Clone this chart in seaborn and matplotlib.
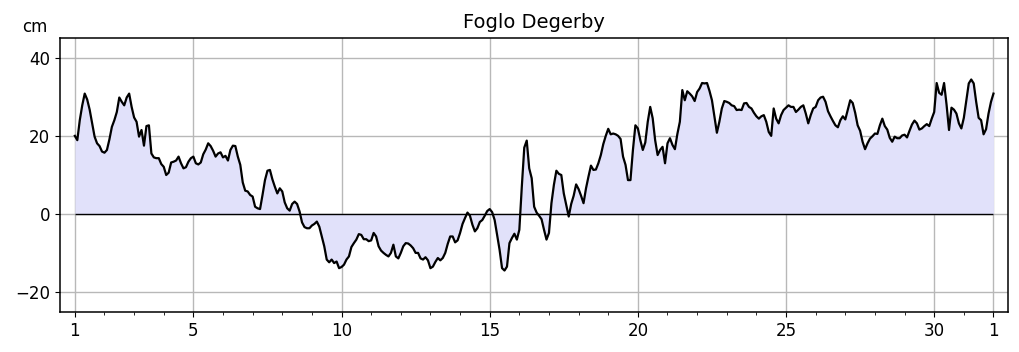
import numpy as np
import pandas as pd
import seaborn as sns
import matplotlib.pyplot as plt

# Sea level at Foglo Degerby, one reading every 2 hours over the month (cm)
station = "Foglo Degerby"
unit = "cm"
step_hours = 2
sea_level = [
    20.0, 18.9, 24.0, 27.8, 30.8, 29.3, 26.7, 23.2, 19.8, 18.1,
    17.4, 16.0, 15.7, 16.4, 19.1, 22.3, 24.0, 26.1, 29.8, 28.7,
    27.8, 29.8, 30.8, 27.4, 24.7, 23.6, 19.8, 21.5, 17.5, 22.5,
    22.7, 15.5, 14.5, 14.3, 14.3, 12.8, 12.1, 10.0, 10.6, 13.2,
    13.4, 13.7, 14.7, 13.0, 11.7, 12.0, 13.4, 14.3, 14.7, 13.0,
    12.7, 13.2, 15.3, 16.5, 18.1, 17.4, 16.2, 14.7, 15.5, 15.8,
    14.5, 14.9, 13.7, 16.4, 17.5, 17.4, 14.7, 12.6, 8.1, 6.0,
    5.8, 4.9, 4.5, 1.9, 1.5,
    1.3, 4.9, 8.7, 11.1, 11.3, 8.9, 7.0, 5.3, 6.6, 5.8,
    3.0, 1.5, 0.9, 2.6, 3.2, 2.6, 0.7, -2.1, -3.3, -3.6,
    -3.6, -2.9, -2.5, -1.9, -3.2, -5.7, -8.2, -11.6, -12.3, -11.6,
    -12.5, -12.1, -13.8, -13.5, -12.9, -11.6, -10.8, -8.4, -7.4, -6.5,
    -5.1, -5.3, -6.4, -6.4, -6.9, -6.7, -4.8, -5.7, -8.2, -9.3,
    -9.9, -10.4, -10.8, -9.9, -7.8, -10.8, -11.3, -9.9, -8.2, -7.4,
    -7.5, -8.0, -8.7, -9.9, -9.9, -11.3, -11.6, -11.0, -11.8, -13.8,
    -13.4, -12.2, -11.2, -11.8, -11.2, -9.9, -7.6,
    -5.7, -5.7, -7.2, -6.7, -4.8, -2.5, -1.0, 0.4, -0.4, -2.7,
    -4.4, -3.6, -2.0, -1.5, -0.4, 0.8, 1.3, 0.5, -1.5, -5.3,
    -9.1, -13.8, -14.4, -13.4, -7.4, -6.1, -5.0, -6.5, -4.0, 7.0,
    17.0, 18.8, 11.7, 9.2, 1.9, 0.4, -0.4, -1.3, -4.0, -6.5,
    -4.8, 2.8, 7.5, 11.1, 10.3, 10.0, 5.3, 2.4, -0.6, 2.6,
    4.7, 7.6, 6.4, 4.7, 2.8, 6.6, 9.6, 12.4, 11.3, 11.4,
    13.0, 15.1, 17.9, 20.0, 21.8, 20.4, 20.6, 20.4, 20.0, 19.2,
    14.7, 12.6, 8.7, 8.7, 16.4, 22.7, 21.9,
    18.9, 16.4, 18.3, 23.6, 27.4, 24.5, 18.9, 15.1, 16.4, 17.2,
    13.0, 18.1, 19.4, 17.7, 16.6, 20.5, 23.6, 31.7, 29.1, 31.4,
    30.8, 30.1, 28.9, 31.2, 32.1, 33.5, 33.4, 33.5, 31.5, 29.1,
    24.9, 20.8, 23.6, 27.0, 28.9, 28.7, 28.4, 27.8, 27.6, 26.6,
    26.7, 26.6, 28.3, 28.4, 27.4, 27.0, 25.9, 25.0, 24.4, 25.0,
    25.3, 23.6, 21.0, 20.0, 27.0, 24.4, 23.2, 25.3, 26.6, 27.2,
    27.8, 27.4, 27.4, 26.1, 26.7, 27.4, 27.8, 25.7, 23.2, 25.3,
    27.0, 27.4, 29.1, 29.8, 30.0, 28.7, 26.3,
    25.0, 23.8, 22.7, 22.2, 24.0, 25.0, 24.2, 26.6, 29.1, 28.4,
    25.9, 22.7, 21.3, 18.5, 16.6, 18.1, 19.3, 19.9, 20.6, 20.5,
    22.7, 24.4, 22.5, 21.6, 19.5, 18.5, 19.8, 19.4, 19.4, 20.1,
    20.3, 19.6, 21.3, 22.9, 23.9, 23.2, 21.6, 21.9, 22.5, 23.0,
    22.5, 24.4, 26.1, 33.5, 31.0, 30.5, 33.5, 28.0, 21.5, 27.2,
    26.7, 25.7, 23.2, 21.9, 24.6, 29.1, 33.4, 34.4, 33.4, 28.7,
    24.6, 24.0, 20.4, 21.7, 25.7, 28.7, 30.8,
]
tick_days = [1, 5, 10, 15, 20, 25, 30, 32]
tick_labels = ["1", "5", "10", "15", "20", "25", "30", "1"]
y_ticks = [-20, 0, 20, 40]

df = pd.DataFrame({"level": sea_level})
df["day"] = 1 + df.index * step_hours / 24

fig = plt.figure(figsize=(10.19, 3.52), dpi=100)
ax = fig.add_axes([0.0589, 0.1136, 0.9300, 0.7784])

ax.fill_between(df["day"], 0, df["level"], color="#e1e1fa", lw=0)
ax.hlines(0, df["day"].iloc[0], df["day"].iloc[-1], color="black", lw=1)
sns.lineplot(data=df, x="day", y="level", color="black", lw=1.6, ax=ax)

ax.set_xlim(0.5, 32.48)
ax.set_ylim(-25, 45)
ax.set_xticks(tick_days)
ax.set_xticklabels(tick_labels)
ax.set_xticks(range(1, 33), minor=True)
ax.set_yticks(y_ticks)
ax.tick_params(labelsize=12)
ax.grid(True, which="major", color="#b8b8b8", lw=1)
ax.set_axisbelow(True)
ax.set_xlabel("")
ax.set_ylabel("")
for s in ax.spines.values():
    s.set_linewidth(1.1)

ax.set_title(station, fontsize=14, pad=7)
fig.text(35 / 1019, 1 - 27 / 352, unit, ha="center", va="center", fontsize=12)

fig.savefig("out.png", dpi=100)
